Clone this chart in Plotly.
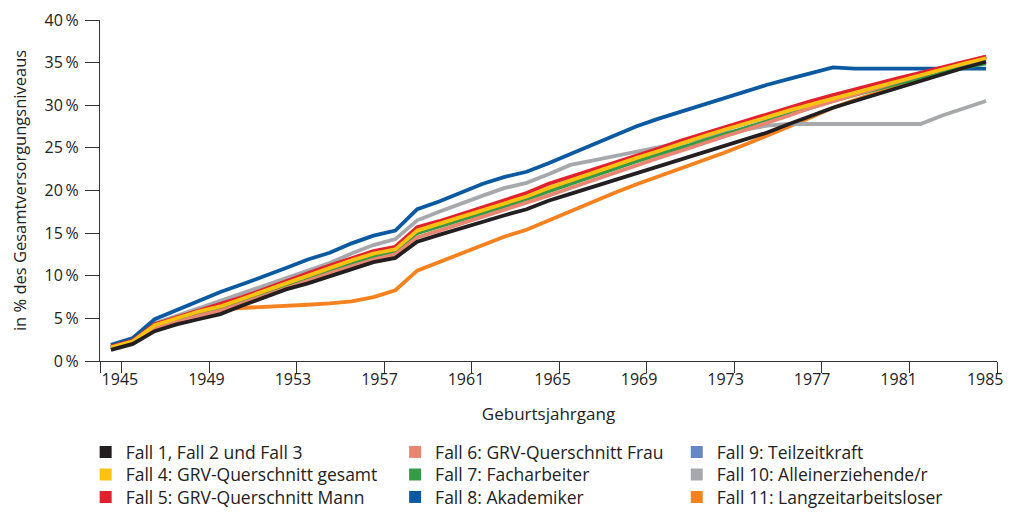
import plotly.graph_objects as go

years = list(range(1945, 1986))
tick_years = [1945, 1949, 1953, 1957, 1961, 1965, 1969, 1973, 1977, 1981, 1985]
y_ticks = [0, 5, 10, 15, 20, 25, 30, 35, 40]

fall_1_3 = [1.3, 2.0, 3.5, 4.3, 4.9, 5.5, 6.5, 7.4, 8.4, 9.1, 9.9, 10.8, 11.6, 12.1, 14.0, 14.8, 15.6, 16.4, 17.1, 17.8,
            18.8, 19.6, 20.4, 21.2, 22.0, 22.8, 23.6, 24.5, 25.3, 26.0, 26.8, 27.8, 28.8, 29.7, 30.5, 31.3, 32.1, 32.9,
            33.7, 34.4, 35.1]
fall_4 = [1.6, 2.3, 4.2, 5.0, 5.8, 6.4, 7.3, 8.2, 9.2, 10.1, 10.9, 11.8, 12.6, 13.1, 15.3, 16.1, 16.9, 17.7, 18.5, 19.3,
          20.3, 21.2, 22.1, 23.0, 23.8, 24.6, 25.5, 26.3, 27.1, 27.8, 28.6, 29.4, 30.1, 30.8, 31.5, 32.2, 32.9, 33.6,
          34.2, 34.9, 35.5]
fall_5 = [1.7, 2.4, 4.3, 5.1, 5.9, 6.6, 7.5, 8.4, 9.4, 10.3, 11.2, 12.1, 12.9, 13.4, 15.7, 16.4, 17.2, 18.1, 18.9, 19.7,
          20.8, 21.6, 22.5, 23.3, 24.1, 24.9, 25.8, 26.6, 27.4, 28.2, 29.0, 29.8, 30.5, 31.2, 31.9, 32.5, 33.2, 33.8,
          34.5, 35.1, 35.7]
fall_6 = [1.4, 2.1, 3.8, 4.6, 5.3, 5.9, 6.8, 7.7, 8.6, 9.4, 10.3, 11.1, 11.9, 12.5, 14.5, 15.3, 16.1, 16.9, 17.7, 18.5,
          19.4, 20.3, 21.2, 22.1, 22.9, 23.8, 24.6, 25.5, 26.3, 27.1, 27.9, 28.8, 29.7, 30.5, 31.3, 32.1, 32.8, 33.5,
          34.2, 35.0, 35.7]
fall_7 = [1.5, 2.2, 4.0, 4.8, 5.6, 6.2, 7.1, 8.0, 8.9, 9.8, 10.6, 11.5, 12.3, 12.9, 15.0, 15.8, 16.6, 17.4, 18.2, 18.9,
          19.9, 20.8, 21.7, 22.5, 23.4, 24.2, 25.0, 25.8, 26.6, 27.3, 28.1, 28.9, 29.7, 30.5, 31.2, 31.9, 32.6, 33.3,
          33.9, 34.4, 34.9]
fall_8 = [1.9, 2.7, 4.9, 6.0, 7.1, 8.1, 9.0, 9.9, 10.9, 11.9, 12.7, 13.8, 14.7, 15.3, 17.8, 18.7, 19.8, 20.8, 21.6, 22.2,
          23.2, 24.3, 25.4, 26.5, 27.5, 28.4, 29.2, 30.1, 30.9, 31.7, 32.4, 33.1, 33.8, 34.45, 34.3, 34.3, 34.3, 34.3,
          34.3, 34.3, 34.3]
fall_9 = [1.6, 2.3, 4.2, 5.0, 5.8, 6.4, 7.3, 8.2, 9.2, 10.1, 10.9, 11.8, 12.6, 13.1, 15.3, 16.1, 16.9, 17.7, 18.5, 19.3,
          20.3, 21.2, 22.1, 23.0, 23.8, 24.6, 25.5, 26.3, 27.1, 27.8, 28.6, 29.4, 30.1, 30.8, 31.5, 32.2, 32.9, 33.6,
          34.2, 34.9, 35.5]
fall_10 = [1.7, 2.5, 4.4, 5.3, 6.2, 7.0, 7.9, 8.8, 9.8, 10.7, 11.5, 12.6, 13.6, 14.3, 16.5, 17.5, 18.5, 19.4, 20.3, 20.9,
           21.9, 23.0, 23.5, 24.0, 24.5, 25.0, 25.5, 26.1, 26.7, 27.2, 27.6, 27.8, 27.8, 27.8, 27.8, 27.8, 27.8, 27.8,
           28.8, 29.7, 30.5]
fall_11 = [1.5, 2.2, 4.0, 4.9, 5.7, 6.1, 6.2, 6.3, 6.5, 6.6, 6.75, 7.0, 7.5, 8.3, 10.6, 11.6, 12.6, 13.6, 14.6, 15.4,
           16.5, 17.6, 18.7, 19.7, 20.7, 21.6, 22.6, 23.5, 24.4, 25.4, 26.4, 27.5, 28.6, 29.7, 30.6, 31.4, 32.2, 33.1,
           34.0, 34.9, 35.7]

series = [
    ("Fall 1, Fall 2 und Fall 3", fall_1_3, "#231f20"),
    ("Fall 4: GRV-Querschnitt gesamt", fall_4, "#fdc20f"),
    ("Fall 5: GRV-Querschnitt Mann", fall_5, "#e1222e"),
    ("Fall 6: GRV-Querschnitt Frau", fall_6, "#e98671"),
    ("Fall 7: Facharbeiter", fall_7, "#369b46"),
    ("Fall 8: Akademiker", fall_8, "#0b5aa1"),
    ("Fall 9: Teilzeitkraft", fall_9, "#6787c4"),
    ("Fall 10: Alleinerziehende/r", fall_10, "#a6a8ab"),
    ("Fall 11: Langzeitarbeitsloser", fall_11, "#f5821f"),
]

FONT = "Open Sans"
TXT = "#222"
X_RANGE = [1944.5, 1985.5]
fig = go.Figure()

# lines drawn in reverse order (Fall 1 on top)
for name, vals, col in reversed(series):
    fig.add_trace(go.Scatter(x=years, y=vals, mode="lines", name=name,
                             line=dict(color=col, width=3.8), showlegend=False,
                             hoverinfo="skip"))

# empty helper trace so that the label axis (x2) is rendered
fig.add_trace(go.Scatter(x=[None], y=[None], xaxis="x2", yaxis="y", mode="lines",
                         showlegend=False, hoverinfo="skip"))

# legend: 3 columns x 3 rows, one legend per entry for exact placement
col_x = [-0.016, 0.329, 0.643]
row_y = [-0.267, -0.333, -0.399]
legend_layout = {}
for i, (name, vals, col) in enumerate(series):
    lid = "legend" if i == 0 else f"legend{i + 1}"
    fig.add_trace(go.Scatter(x=[None], y=[None], mode="markers", name=name,
                             marker=dict(symbol="square", size=12, color=col),
                             legend=lid, showlegend=True, hoverinfo="skip"))
    legend_layout[lid] = dict(
        orientation="v", xanchor="left", yanchor="middle",
        x=col_x[i // 3], y=row_y[i % 3],
        font=dict(family=FONT, size=17.5, color=TXT),
        bgcolor="rgba(0,0,0,0)", itemwidth=30, borderwidth=0)

# tick marks sit at category boundaries; the year labels are spread slightly tighter
tick_pos = [X_RANGE[0]] + [t + 0.5 for t in tick_years]
label_pos = [1945.41 + (t - 1945) * 0.98875 for t in tick_years]

# page body adds an 8px offset; figure sized to fit inside the window
fig.update_layout(
    width=1009, height=500,
    margin=dict(l=92, r=20, t=12, b=147, autoexpand=False),
    plot_bgcolor="white", paper_bgcolor="white",
    font=dict(family=FONT, size=16, color=TXT),
    xaxis=dict(
        range=X_RANGE,
        tickvals=tick_pos,
        showticklabels=False,
        ticks="outside", ticklen=11, tickcolor="#333", tickwidth=1,
        showline=True, linecolor="#333", linewidth=1,
        showgrid=False, zeroline=False,
    ),
    xaxis2=dict(
        range=X_RANGE, overlaying="x", anchor="y", side="bottom",
        tickvals=label_pos,
        ticktext=[str(t) for t in tick_years],
        ticks="outside", ticklen=4, tickcolor="rgba(0,0,0,0)",
        showline=False, showgrid=False, zeroline=False,
        tickfont=dict(family=FONT, size=16, color=TXT),
        title=dict(text="Geburtsjahrgang", font=dict(family=FONT, size=17, color=TXT), standoff=18),
    ),
    yaxis=dict(
        range=[0, 40],
        tickvals=y_ticks,
        ticktext=[f"{v}\u2009%" for v in y_ticks],
        ticks="outside", ticklen=14, tickcolor="#333", tickwidth=1,
        ticklabelstandoff=3,
        showline=True, linecolor="#333", linewidth=1,
        showgrid=False, zeroline=False,
        tickfont=dict(family=FONT, size=16, color=TXT),
        title=dict(text="in % des Gesamtversorgungsniveaus", font=dict(family=FONT, size=16.5, color=TXT),
                   standoff=14),
    ),
    **legend_layout,
)

fig.write_html("out.html")
